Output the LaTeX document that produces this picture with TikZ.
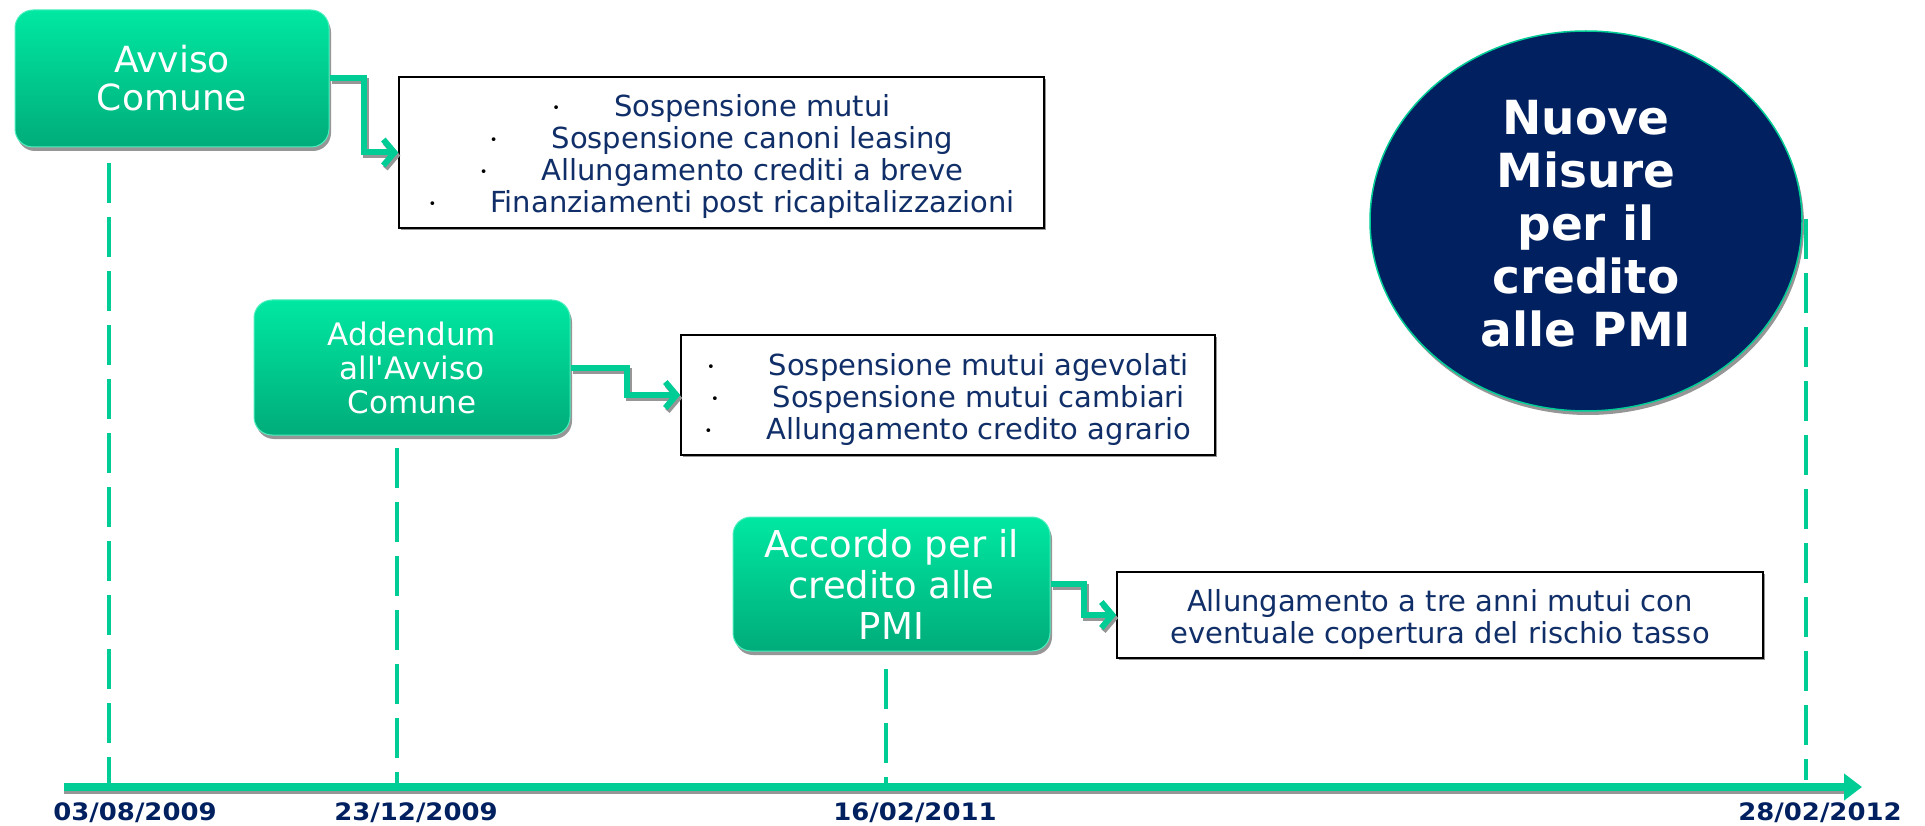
\documentclass[tikz,border=0pt]{standalone}
\usepackage{fontspec}
\setmainfont{DejaVu Sans}
\newfontfamily\datefont[FakeStretch=1.08]{DejaVu Sans}
\usetikzlibrary{arrows.meta,shadows,shapes.geometric,calc}
\definecolor{grn}{RGB}{0,204,150}
\definecolor{grntop}{RGB}{0,232,162}
\definecolor{grnbot}{RGB}{0,172,122}
\definecolor{navy}{RGB}{0,32,96}
\definecolor{txt}{RGB}{16,46,104}
\definecolor{shd}{RGB}{150,150,150}
\newcommand{\bul}[1]{{\color{black}\fontsize{13}{13}\selectfont\raisebox{4pt}{•}}\hspace{#1}}
\newcommand{\straightapos}{{\addfontfeature{Ligatures=TeXOff}'}}
\begin{document}
\begin{tikzpicture}[x=1pt,y=-1pt,
  gbox/.style={rounded corners=18pt, top color=grntop, bottom color=grnbot, draw=grntop!70!white, line width=1pt, text=white, align=center, inner sep=0pt,
    drop shadow={shadow xshift=2pt, shadow yshift=-4pt, fill=shd, opacity=1}},
  tbox/.style={draw=black, line width=1.5pt, fill=white, inner sep=0pt,
    drop shadow={shadow xshift=2pt, shadow yshift=-2pt, fill=shd, opacity=1}},
  ttext/.style={text=txt, align=center, inner sep=0pt, font=\fontsize{29}{32}\selectfont},
  conn/.style={draw=grn, line width=6pt, line join=miter, -{Straight Barb[length=11pt, width=26pt]}},
  connshd/.style={draw=shd, line width=6pt, line join=miter, -{Straight Barb[length=11pt, width=26pt]}, transform canvas={xshift=2pt, yshift=-3pt}},
  vdash/.style={draw=grn, line width=4.5pt, dash pattern=on 40pt off 14pt},
  datelbl/.style={text=navy, font=\datefont\bfseries\fontsize{24}{24}\selectfont, inner sep=0pt},
]
\useasboundingbox (0,0) rectangle (1925,826);

% timeline coordinates
\coordinate (tl0) at (64,787);
\coordinate (tl1) at (1862,787);
\coordinate (d1) at (109,787);
\coordinate (d2) at (397,787);
\coordinate (d3) at (886,787);
\coordinate (d4) at (1806,780);
\coordinate (d1t) at (109,163);
\coordinate (d2t) at (397,448);
\coordinate (d3t) at (886,669);
\coordinate (d4t) at (1806,219);

% green boxes
\node[gbox, minimum width=314, minimum height=137, font=\fontsize{36}{38}\selectfont] (b1) at (172,78.5) {Avviso\\Comune};
\node[gbox, minimum width=316, minimum height=135, font=\fontsize{31}{34}\selectfont] (b2) at (412,367.5) {Addendum\\all\straightapos Avviso\\Comune};
\node[gbox, minimum width=317, minimum height=134, font=\fontsize{37}{41}\selectfont] (b3) at (891.5,584) {Accordo per il\\credito alle\\PMI};

% text boxes
\node[tbox, minimum width=645, minimum height=151] (t1) at (721.5,152.5) {};
\node[ttext] (t1txt) at ($(t1.center)+(0,4)$)
  {\bul{54pt}Sospensione mutui\\
   \bul{54pt}Sospensione canoni leasing\\
   \bul{54pt}Allungamento crediti a breve\\
   \bul{54pt}Finanziamenti post ricapitalizzazioni};
\node[tbox, minimum width=534, minimum height=120] (t2) at (948,395) {};
\node[ttext] (t2txt) at ($(t2.center)+(0,4)$)
  {\bul{54pt}Sospensione mutui agevolati\\
   \bul{54pt}Sospensione mutui cambiari\\
   \bul{54pt}Allungamento credito agrario};
\node[tbox, minimum width=646, minimum height=86] (t3) at (1440,615) {};
\node[ttext] (t3txt) at ($(t3.center)+(0,4)$)
  {Allungamento a tre anni mutui con\\eventuale copertura del rischio tasso};

% circle
\node[ellipse, minimum width=432, minimum height=380, fill=navy, draw=grn, line width=1.5pt, inner sep=0pt,
  drop shadow={shadow xshift=2pt, shadow yshift=-4pt, fill=shd, opacity=1}] (c) at (1586,221) {};
\node[text=white, align=center, inner sep=0pt, font=\bfseries\fontsize{47}{53}\selectfont] (ctxt) at ($(c.center)+(0,3)$)
  {Nuove\\Misure\\per il\\credito\\alle PMI};

% connectors
\draw[connshd] (b1.east) -- ++(34,0) |- (t1.west);
\draw[conn] (b1.east) -- ++(34,0) |- (t1.west);
\draw[connshd] (b2.east) -- ++(56,0) |- (t2.west);
\draw[conn] (b2.east) -- ++(56,0) |- (t2.west);
\draw[connshd] (b3.east) -- ++(33,0) |- (t3.west);
\draw[conn] (b3.east) -- ++(33,0) |- (t3.west);

% dashed verticals
\draw[vdash] (d1t) -- (d1);
\draw[vdash] (d2t) -- (d2);
\draw[vdash] (d3t) -- (d3);
\draw[vdash] (d4t) -- (d4);

% timeline
\draw[shd, line width=4pt] ($(tl0)+(0,5)$) -- ($(tl1)+(-14,5)$);
\draw[grn, line width=8pt, -{Triangle[length=18pt, width=26pt]}] (tl0) -- (tl1);

% dates
\node[datelbl] (l1) at (135,813) {03/08/2009};
\node[datelbl] (l2) at (416,813) {23/12/2009};
\node[datelbl] (l3) at (915,813) {16/02/2011};
\node[datelbl] (l4) at (1820,813) {28/02/2012};
\end{tikzpicture}
\end{document}
